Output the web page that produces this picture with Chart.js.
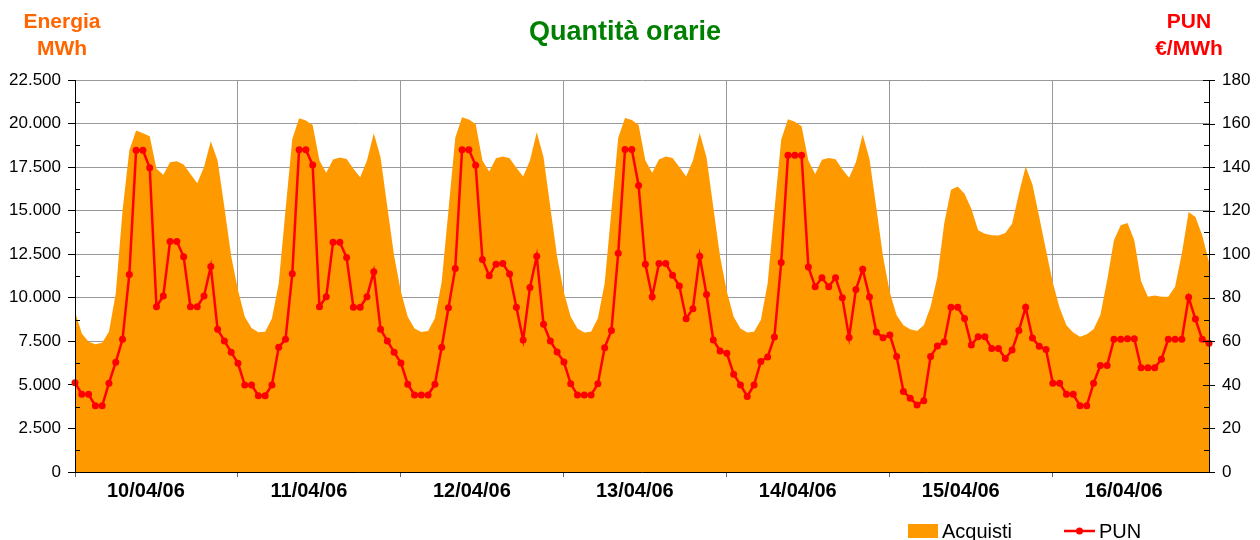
<!DOCTYPE html>
<html lang="it">
<head>
<meta charset="UTF-8">
<title>Quantità orarie</title>
<script src="https://cdn.jsdelivr.net/npm/chart.js"></script>
<style>
  body { margin: 0; background: #fff; }
</style>
</head>
<body>
<canvas id="grafico" width="1260" height="540"></canvas>

<script>
// giorni (24 ore ciascuno)
const giorni = ['10/04/06', '11/04/06', '12/04/06', '13/04/06', '14/04/06', '15/04/06', '16/04/06'];

// Acquisti (MWh), ore 1..24 per giorno
const acquisti = [
  9200, 7950, 7480, 7330, 7420, 8050, 10250, 15000, 18450, 19600, 19450, 19270,
  17400, 17060, 17780, 17840, 17650, 17110, 16580, 17500, 18990, 17880, 15200, 12400,
  10440, 8910, 8260, 8020, 8050, 8810, 10820, 15020, 19120, 20300, 20170, 19920,
  17880, 17170, 17930, 18050, 17970, 17400, 16920, 17880, 19440, 18070, 15200, 12400,
  10340, 8910, 8240, 8030, 8090, 8820, 10910, 15020, 19180, 20360, 20230, 19980,
  17880, 17250, 18010, 18110, 18010, 17460, 16960, 17880, 19500, 18070, 15200, 12350,
  10300, 8910, 8240, 8010, 8050, 8820, 10820, 15020, 19180, 20320, 20200, 19920,
  17880, 17170, 17940, 18110, 18030, 17500, 16960, 17880, 19460, 18070, 15200, 12350,
  10340, 8910, 8240, 8000, 8050, 8720, 10820, 15020, 19080, 20240, 20110, 19840,
  17880, 17110, 17920, 18030, 17950, 17380, 16890, 17780, 19370, 17970, 15200, 12350,
  10300, 9000, 8430, 8190, 8090, 8430, 9480, 11200, 14250, 16200, 16390, 15970,
  15110, 13870, 13680, 13590, 13570, 13720, 14250, 15970, 17540, 16500, 14630, 12730,
  10860, 9430, 8430, 8000, 7770, 7900, 8190, 9010, 11010, 13300, 14160, 14290,
  13300, 10950, 10060, 10130, 10060, 10060, 10630, 12540, 14920, 14630, 13590, 12060
];

// PUN (€/MWh)
const pun = [
  41, 35.7, 35.7, 30.4, 30.4, 40.8, 50.4, 60.9, 90.7, 147.7, 147.7, 139.7,
  75.9, 80.8, 105.8, 105.8, 98.8, 75.9, 75.9, 80.8, 94.4, 65.5, 60.2, 55,
  49.9, 40, 40, 35, 35, 40, 57.3, 60.9, 91, 148, 148, 141,
  75.9, 80.5, 105.5, 105.5, 98.5, 75.6, 75.6, 80.5, 92, 65.5, 60.2, 55,
  50, 40.3, 35.4, 35.4, 35.4, 40.3, 57.3, 75.4, 93.5, 148, 148, 140.8,
  97.6, 90.1, 95.4, 95.7, 90.9, 75.7, 60.6, 84.7, 99.1, 67.8, 60.2, 55.1,
  50.5, 40.5, 35.3, 35.3, 35.3, 40.5, 57.1, 65, 100.5, 148.1, 148.1, 131.6,
  95.4, 80.5, 95.7, 95.7, 90.4, 85.4, 70.4, 75, 99.1, 81.5, 60.6, 55.6,
  54.5, 44.9, 40, 34.7, 40, 50.7, 52.8, 62, 96.2, 145.4, 145.4, 145.4,
  94.1, 85.1, 89.2, 85.1, 89.2, 80, 61.8, 83.8, 93.1, 80.3, 64.3, 61.7,
  62.9, 53, 37, 33.9, 30.8, 32.7, 53, 57.9, 59.7, 75.6, 75.6, 70.5,
  58.3, 62.1, 62.1, 56.7, 56.7, 52.1, 56, 65, 75.6, 61.5, 57.7, 56.2,
  40.8, 40.8, 35.7, 35.7, 30.4, 30.4, 40.8, 48.9, 48.9, 60.9, 60.9, 61.2,
  61.2, 47.9, 47.9, 47.9, 51.8, 60.9, 60.9, 60.9, 80.2, 70.2, 60.9, 59.1
];

const tickEnergia = [0, 2500, 5000, 7500, 10000, 12500, 15000, 17500, 20000, 22500];
const tickPun = [0, 20, 40, 60, 80, 100, 120, 140, 160, 180];

const etichette = [];
giorni.forEach(g => { for (let h = 1; h <= 24; h++) etichette.push(g + ' ' + h); });

const FONT = '"Liberation Sans", Arial, sans-serif';
Chart.defaults.font.family = FONT;
Chart.defaults.color = '#000';

function migliaia(v) {
  return String(v).replace(/\B(?=(\d{3})+(?!\d))/g, '.');
}

// titoli, tacche secondarie e legenda
const extra = {
  id: 'extra',
  afterDraw(chart) {
    const c = chart.ctx;
    const a = chart.chartArea;
    const ys = chart.scales.y, ys1 = chart.scales.y1;
    c.save();
    c.textAlign = 'center';
    c.textBaseline = 'alphabetic';
    c.font = 'bold 27px ' + FONT;
    c.fillStyle = '#008000';
    c.fillText('Quantità orarie', 625, 40);
    c.font = 'bold 21px ' + FONT;
    c.fillStyle = '#FF6600';
    c.fillText('Energia', 62, 28);
    c.fillText('MWh', 62, 55);
    c.fillStyle = '#FF0000';
    c.fillText('PUN', 1189, 28);
    c.fillText('€/MWh', 1189, 55);

    // tacche secondarie + tacche principali a destra
    c.strokeStyle = '#000';
    c.lineWidth = 1;
    c.beginPath();
    for (let i = 0; i < tickEnergia.length - 1; i++) {
      const y = Math.round(ys.getPixelForValue((tickEnergia[i] + tickEnergia[i + 1]) / 2)) + 0.5;
      c.moveTo(a.left, y); c.lineTo(a.left + 5, y);
    }
    for (let i = 0; i < tickPun.length - 1; i++) {
      const y = Math.round(ys1.getPixelForValue((tickPun[i] + tickPun[i + 1]) / 2)) + 0.5;
      c.moveTo(a.right - 5, y); c.lineTo(a.right, y);
    }
    tickPun.forEach(v => {
      const y = Math.round(ys1.getPixelForValue(v)) + 0.5;
      c.moveTo(a.right - 6, y); c.lineTo(a.right + 6, y);
    });
    c.stroke();

    // legenda
    c.fillStyle = '#FF9900';
    c.fillRect(908, 524, 30, 14);
    c.font = '20px ' + FONT;
    c.textAlign = 'left';
    c.fillStyle = '#000';
    c.fillText('Acquisti', 942, 538);
    c.fillText('PUN', 1099, 538);
    c.strokeStyle = '#FF0000';
    c.lineWidth = 2.5;
    c.beginPath();
    c.moveTo(1064, 531); c.lineTo(1095, 531);
    c.stroke();
    c.fillStyle = '#FF0000';
    c.beginPath();
    c.arc(1079.5, 531, 3.5, 0, Math.PI * 2);
    c.fill();
    c.restore();
  }
};

new Chart(document.getElementById('grafico'), {
  type: 'line',
  data: {
    labels: etichette,
    datasets: [
      {
        label: 'PUN',
        data: pun,
        yAxisID: 'y1',
        order: 1,
        borderColor: '#FF0000',
        borderWidth: 2.5,
        pointRadius: 3.5,
        pointBackgroundColor: '#FF0000',
        pointBorderWidth: 0,
        fill: false,
        tension: 0,
        clip: false
      },
      {
        label: 'Acquisti',
        data: acquisti,
        yAxisID: 'y',
        order: 2,
        backgroundColor: '#FF9900',
        borderWidth: 0,
        pointRadius: 0,
        fill: 'origin',
        tension: 0
      }
    ]
  },
  options: {
    responsive: false,
    animation: false,
    layout: { padding: { top: 80 } },
    plugins: {
      legend: { display: false },
      title: { display: false },
      tooltip: { enabled: false }
    },
    scales: {
      x: {
        grid: {
          color: ctx => ctx.index % 24 === 0 ? '#999' : 'rgba(0,0,0,0)',
          tickColor: ctx => ctx.index % 24 === 0 ? '#666' : 'rgba(0,0,0,0)',
          tickLength: 5
        },
        border: { color: '#000', z: 1 },
        ticks: {
          autoSkip: false,
          maxRotation: 0,
          minRotation: 0,
          padding: 2,
          labelOffset: 3,
          font: { size: 20, weight: 'bold' },
          callback: (v, i) => i % 24 === 10 ? giorni[Math.floor(i / 24)] : ''
        },
        afterFit(s) { s.height = 68; }
      },
      y: {
        position: 'left',
        min: 0,
        max: 22500,
        afterBuildTicks(s) { s.ticks = tickEnergia.map(v => ({ value: v })); },
        grid: { color: '#999', tickColor: '#000', tickLength: 7 },
        border: { color: '#000', z: 1 },
        ticks: { font: { size: 17 }, padding: 7, callback: v => migliaia(v) },
        afterFit(s) { s.width = 75; }
      },
      y1: {
        position: 'right',
        min: 0,
        max: 180,
        afterBuildTicks(s) { s.ticks = tickPun.map(v => ({ value: v })); },
        grid: { drawOnChartArea: false, drawTicks: false },
        border: { color: '#000', z: 1 },
        ticks: { font: { size: 17 }, padding: 13 },
        afterFit(s) { s.width = 51; }
      }
    }
  },
  plugins: [extra]
});
</script>
</body>
</html>
